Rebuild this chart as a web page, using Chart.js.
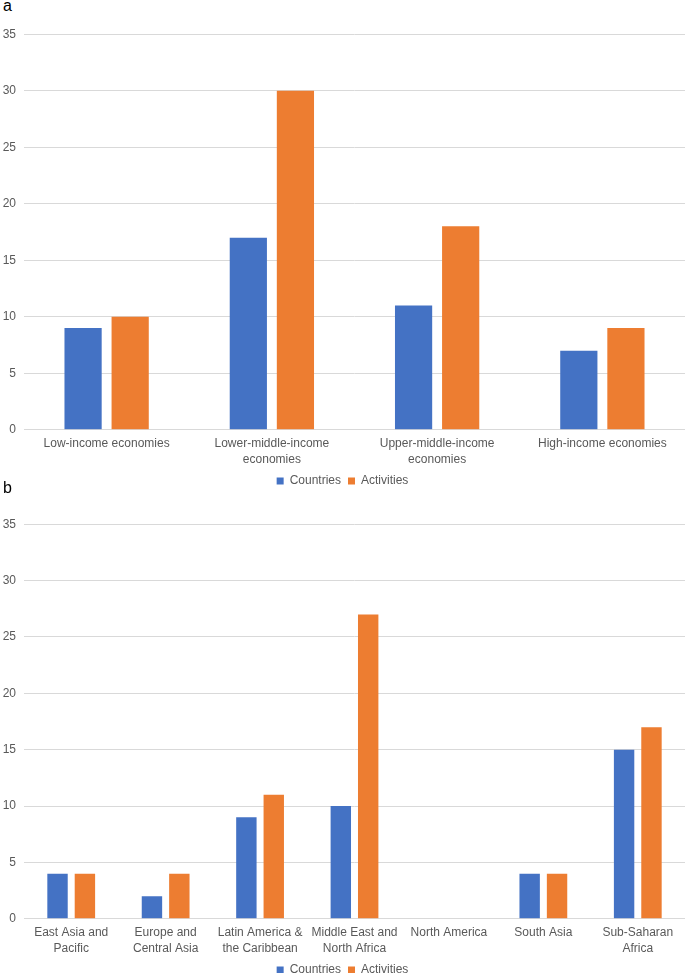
<!DOCTYPE html>
<html>
<head>
<meta charset="utf-8">
<script src="https://cdn.jsdelivr.net/npm/chart.js@4"></script>
<style>
  body { margin: 0; background: #fff; font-family: "Liberation Sans", Arial, sans-serif; overflow: hidden; }
  .panel { position: absolute; left: 0; width: 685px; }
  .tag { position: absolute; left: 3px; font-size: 16px; color: #000; }
</style>
</head>
<body>
<div class="tag" style="top:-3px">a</div>
<div class="panel" style="top:19px;height:483px"><canvas id="chartA"></canvas></div>
<div class="tag" style="top:479px">b</div>
<div class="panel" style="top:509px;height:482px"><canvas id="chartB"></canvas></div>
<script>
const incomeLabels = ['Low-income economies', ['Lower-middle-income', 'economies'], ['Upper-middle-income', 'economies'], 'High-income economies'];
const incomeCountries = [9, 17, 11, 7];
const incomeActivities = [10, 30, 18, 9];

const regionLabels = [['East Asia and', 'Pacific'], ['Europe and', 'Central Asia'], ['Latin America &', 'the Caribbean'], ['Middle East and', 'North Africa'], 'North America', 'South Asia', ['Sub-Saharan', 'Africa']];
const regionCountries = [4, 2, 9, 10, 0, 4, 15];
const regionActivities = [4, 4, 11, 27, 0, 4, 17];

const yTicks = [0, 5, 10, 15, 20, 25, 30, 35];

Chart.defaults.font.family = '"Liberation Sans", Arial, sans-serif';
Chart.defaults.color = '#595959';

// the legend sits a bit closer to the axis labels than its padding allows
const subirLeyenda = {
  id: 'subirLeyenda',
  afterLayout(chart) {
    chart.legend.top -= 5;
    chart.legend.bottom -= 5;
  }
};

function crearGrafica(id, labels, countries, activities, catPct, barPct) {
  const ctx = document.getElementById(id).getContext('2d');
  return new Chart(ctx, {
    type: 'bar',
    data: {
      labels,
      datasets: [
        { label: 'Countries', data: countries, backgroundColor: '#4472C4', categoryPercentage: catPct, barPercentage: barPct },
        { label: 'Activities', data: activities, backgroundColor: '#ED7D31', categoryPercentage: catPct, barPercentage: barPct }
      ]
    },
    options: {
      responsive: true,
      maintainAspectRatio: false,
      animation: false,
      layout: { padding: 0 },
      scales: {
        y: {
          min: 0,
          max: 35,
          afterBuildTicks: axis => { axis.ticks = yTicks.map(v => ({ value: v })); },
          afterFit: axis => { axis.width = 24; },
          border: { display: false },
          grid: { color: '#d9d9d9', drawTicks: false },
          ticks: { font: { size: 12 }, padding: 8 }
        },
        x: {
          border: { color: '#d9d9d9' },
          grid: { display: false, drawTicks: false },
          ticks: { font: { size: 12, lineHeight: 1.3 }, maxRotation: 0, autoSkip: false, padding: 6 }
        }
      },
      plugins: {
        legend: {
          position: 'bottom',
          labels: { boxWidth: 7, boxHeight: 7, font: { size: 12 }, padding: 7 }
        },
        tooltip: { enabled: false }
      }
    },
    plugins: [subirLeyenda]
  });
}

crearGrafica('chartA', incomeLabels, incomeCountries, incomeActivities, 0.57, 0.79);
crearGrafica('chartB', regionLabels, regionCountries, regionActivities, 0.58, 0.745);
</script>
</body>
</html>
